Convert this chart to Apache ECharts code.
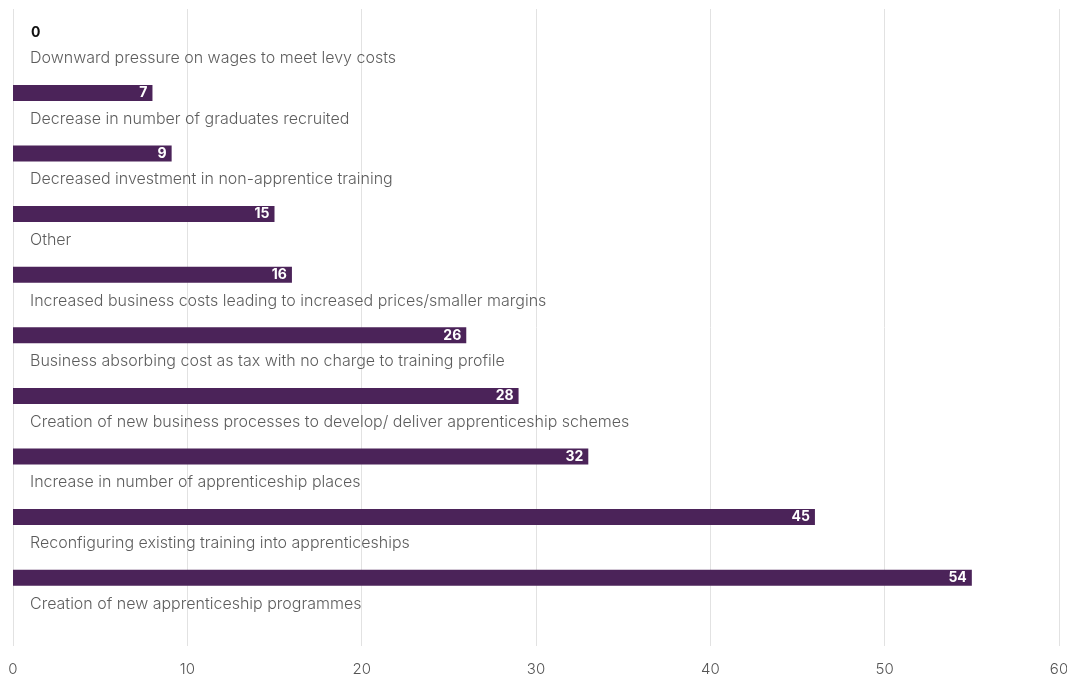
<!DOCTYPE html>
<html>
<head>
<meta charset="utf-8">
<script src="https://cdn.jsdelivr.net/npm/echarts@6/dist/echarts.min.js"></script>
<style>html,body{margin:0;padding:0;background:#fff}#c{width:1067px;height:680px}</style>
</head>
<body>
<div id="c"></div>
<script>
const categories = [
  "Downward pressure on wages to meet levy costs",
  "Decrease in number of graduates recruited",
  "Decreased investment in non-apprentice training",
  "Other",
  "Increased business costs leading to increased prices/smaller margins",
  "Business absorbing cost as tax with no charge to training profile",
  "Creation of new business processes to develop/ deliver apprenticeship schemes",
  "Increase in number of apprenticeship places",
  "Reconfiguring existing training into apprenticeships",
  "Creation of new apprenticeship programmes"
];
// bar lengths as drawn in the picture
const barValues = [0, 8, 9.1, 15, 16, 26, 29, 33, 46, 55];
// numbers printed on the bars
const valueLabels = [0, 7, 9, 15, 16, 26, 28, 32, 45, 54];
const xTicks = [0, 10, 20, 30, 40, 50, 60];

const FONT = "Inter, 'Noto Sans', sans-serif";
const chart = echarts.init(document.getElementById('c'));
chart.setOption({
  animation: false,
  grid: [
    {left: 13, right: 8, top: 9, bottom: 34, outerBoundsMode: 'none', containLabel: false},
    {left: 13, right: 8, top: 2, height: 606, outerBoundsMode: 'none', containLabel: false}
  ],
  xAxis: [
    {gridIndex: 0, type: 'value', min: 0, max: 60, interval: 10,
     axisLine: {show: false}, axisTick: {show: false},
     splitLine: {lineStyle: {color: '#e2e2e2', width: 1}},
     axisLabel: {color: '#555', fontSize: 15, fontFamily: FONT, fontWeight: 300, margin: 16,
       formatter: v => xTicks.includes(v) ? String(v) : ''}},
    {gridIndex: 1, type: 'value', min: 0, max: 60, show: false}
  ],
  yAxis: [
    {gridIndex: 0, type: 'value', show: false},
    {gridIndex: 1, type: 'category', data: categories, inverse: true, show: false}
  ],
  series: [
    {
      type: 'bar', xAxisIndex: 1, yAxisIndex: 1, barWidth: 16,
      itemStyle: {color: '#4b2359'},
      data: barValues.map((v, i) => ({
        value: v,
        label: v === 0 ? {position: 'right', distance: 18, color: '#111'} : {}
      })),
      label: {
        show: true, position: 'insideRight', distance: 5,
        color: '#fff', fontWeight: 'bold', fontSize: 14, fontFamily: FONT,
        formatter: p => String(valueLabels[p.dataIndex])
      }
    },
    {
      type: 'scatter', xAxisIndex: 1, yAxisIndex: 1, symbolSize: 0,
      data: categories.map(() => 0),
      silent: true,
      label: {
        show: true, position: 'right', distance: 17, offset: [0, 26],
        color: '#333', fontSize: 16, fontFamily: FONT, fontWeight: 300,
        formatter: p => categories[p.dataIndex]
      }
    }
  ]
});
</script>
</body>
</html>
